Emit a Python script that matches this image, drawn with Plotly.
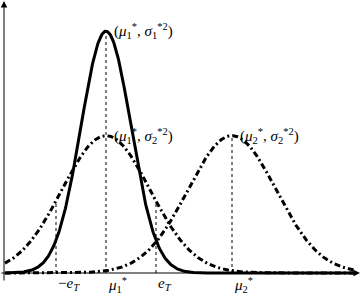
import numpy as np
import plotly.graph_objects as go

# Parameters (units: e_T = 1)
means = [0.0, 0.0, 2.52]          # mu1*, mu1*, mu2*
sigmas = [0.5, 0.88, 0.88]        # sigma1*, sigma2*, sigma2*
styles = ["solid", "dashdot", "dashdot"]
e_T = 1.0
peak_labels = ["(<i>μ</i><sub>1</sub><sup>*</sup>, <i>σ</i><sub>1</sub><sup>*2</sup>)",
               "(<i>μ</i><sub>1</sub><sup>*</sup>, <i>σ</i><sub>2</sub><sup>*2</sup>)",
               "(<i>μ</i><sub>2</sub><sup>*</sup>, <i>σ</i><sub>2</sub><sup>*2</sup>)"]
tick_vals = [-e_T, means[0], e_T, means[2]]
tick_text = ["−<i>e</i><sub><i>T</i></sub>", "<i>μ</i><sub>1</sub><sup>*</sup>",
             "<i>e</i><sub><i>T</i></sub>", "<i>μ</i><sub>2</sub><sup>*</sup>"]

W, H = 362, 294
X0PX, XSCALE = 106, 50.0   # pixel of x=0, px per unit
Y0PX, YSCALE = 273, 303.0  # pixel of y=0, px per unit


def dx(px):
    return (px - X0PX) / XSCALE


def dy(py):
    return (Y0PX - py) / YSCALE


def pdf(x, m, s):
    return np.exp(-0.5 * ((x - m) / s) ** 2) / (s * np.sqrt(2 * np.pi))


xs = np.linspace(dx(5), dx(356), 600)
fig = go.Figure()
for m, s, st in zip(means, sigmas, styles):
    fig.add_trace(go.Scatter(
        x=xs, y=pdf(xs, m, s), mode="lines",
        line=dict(color="black", width=3,
                  dash="solid" if st == "solid" else "6px,3px,2px,3px"),
        hoverinfo="skip", showlegend=False))

# dotted guide lines
guides = [(-e_T, pdf(-e_T, means[1], sigmas[1])),
          (e_T, pdf(e_T, means[1], sigmas[1])),
          (means[0], pdf(means[0], means[0], sigmas[0])),
          (means[2], pdf(means[2], means[2], sigmas[2]))]
for gx, gy in guides:
    fig.add_shape(type="line", x0=gx, x1=gx, y0=0, y1=gy,
                  line=dict(color="black", width=1, dash="dot"), layer="below")

font = dict(family="Liberation Serif", size=15, color="black")

# peak labels
for m, s, lab in zip(means, sigmas, peak_labels):
    fig.add_annotation(x=m + dx(112) - dx(106), y=pdf(m, m, s), text=lab,
                       showarrow=False, xanchor="left", yanchor="middle",
                       font=font)

# tick labels
for tv, tt in zip(tick_vals, tick_text):
    fig.add_annotation(x=tv, y=dy(273), text=tt, showarrow=False,
                       xanchor="left", yanchor="top", font=font)

# axes with arrows
fig.add_annotation(x=dx(360), y=0, ax=dx(0), ay=0, axref="x", ayref="y",
                   xref="x", yref="y", text="", showarrow=True,
                   arrowhead=2, arrowsize=1.3, arrowwidth=1, arrowcolor="black")
fig.add_annotation(x=dx(4), y=dy(1), ax=dx(4), ay=dy(282), axref="x", ayref="y",
                   xref="x", yref="y", text="", showarrow=True,
                   arrowhead=2, arrowsize=1.3, arrowwidth=1, arrowcolor="black")

fig.update_layout(
    width=W, height=H, margin=dict(l=0, r=0, t=0, b=0),
    paper_bgcolor="white", plot_bgcolor="white",
    xaxis=dict(range=[dx(0), dx(W)], visible=False, fixedrange=True),
    yaxis=dict(range=[dy(H), dy(0)], visible=False, fixedrange=True),
    showlegend=False,
)
fig.write_html("out.html", config={"displayModeBar": False},
               post_script="document.body.style.margin='0';document.body.style.overflow='hidden';")
